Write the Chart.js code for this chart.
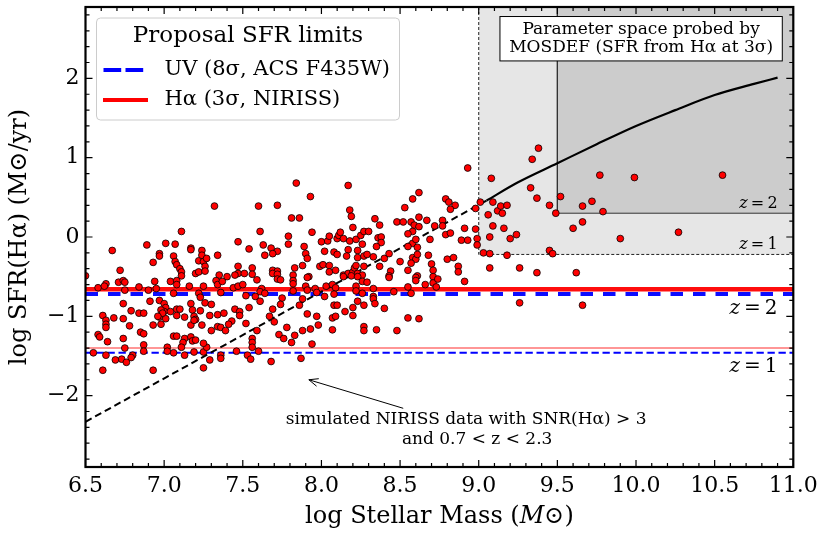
<!DOCTYPE html>
<html>
<head>
<meta charset="utf-8">
<script src="https://cdn.jsdelivr.net/npm/chart.js@4.4.1/dist/chart.umd.min.js"></script>
<style>
  html, body { margin: 0; padding: 0; background: #fff; }
  #wrap { width: 830px; height: 541px; }
</style>
</head>
<body>
<div id="wrap"><canvas id="sfrChart" width="830" height="541"></canvas></div>
<script>
// simulated NIRISS galaxies (log M*, log SFR(Halpha))
var simMass = [
  6.50,6.67,6.72,6.89,6.93,6.97,6.97,7.01,7.07,7.11,
  7.06,7.07,7.08,7.10,7.11,7.11,7.17,7.17,7.20,7.22,
  7.22,7.24,7.24,7.25,7.26,7.26,7.27,7.32,7.34,7.35,
  6.58,6.63,6.62,6.71,6.74,6.75,6.75,6.84,6.90,6.94,
  6.95,7.04,7.08,7.08,7.06,7.16,7.25,7.22,7.23,7.33,
  7.34,7.36,
  6.74,6.91,6.97,7.00,7.01,7.00,6.98,6.97,7.01,6.99,
  7.04,7.08,7.08,7.10,7.13,7.17,7.18,7.19,7.20,7.23,
  7.26,7.30,7.34,7.29,7.24,7.17,7.19,
  6.61,6.63,6.63,6.63,6.68,6.74,6.79,6.84,6.87,6.78,
  6.93,6.98,6.96,6.85,6.87,6.58,6.59,6.64,6.74,
  7.06,7.08,7.13,7.17,7.18,7.20,7.12,7.11,7.06,7.02,
  7.02,6.87,6.87,6.75,6.55,6.63,6.80,6.79,6.73,6.69,6.76,
  7.13,7.19,7.25,7.27,7.25,7.30,7.34,7.36,7.29,7.25,7.36,6.61,6.93,
  7.84,8.17,7.93,7.60,7.72,7.81,7.86,8.18,8.19,8.20,8.58,8.53,8.62,8.34,8.37,
  7.61,7.94,7.79,7.79,7.47,7.63,7.54,7.68,7.72,7.69,7.64,
  7.89,7.90,7.91,8.00,8.04,8.05,8.10,8.11,8.12,8.14,
  8.18,8.22,8.25,8.27,8.30,8.26,8.36,8.38,8.38,8.35,
  8.02,8.08,8.10,8.17,8.16,8.23,8.23,8.27,8.29,8.33,8.40,8.43,
  8.48,8.52,8.57,8.59,8.62,8.62,8.58,8.55,8.58,8.55,8.61,8.58,8.60,8.57,8.50,8.61,
  7.47,7.47,7.51,7.56,7.56,7.45,7.40,7.69,7.72,7.69,7.72,
  7.83,7.82,7.88,7.92,7.99,8.01,8.05,8.05,8.09,8.14,8.17,
  8.20,8.21,8.22,8.27,8.23,8.26,8.37,8.44,8.43,8.55,8.61,
  7.59,7.72,7.74,7.82,7.82,7.91,7.37,7.44,7.47,7.50,
  7.62,7.61,7.64,7.58,7.52,7.61,7.75,7.82,7.90,7.91,
  7.96,7.97,8.03,8.07,8.09,
  8.02,8.08,8.14,8.19,8.23,8.26,8.29,8.22,8.22,8.26,
  8.33,8.33,8.33,8.34,8.23,8.46,8.43,8.60,8.60,8.55,8.57,
  7.45,7.48,7.54,7.38,7.48,7.43,7.41,7.52,7.39,7.59,
  7.69,7.67,7.74,7.86,7.88,7.70,7.78,7.73,7.76,7.83,
  7.88,7.93,7.98,7.97,7.91,
  8.07,8.09,8.08,8.10,8.15,8.20,8.20,8.27,
  8.40,8.07,8.27,8.27,8.35,8.48,8.55,8.62,
  7.56,7.56,7.56,7.81,7.94,7.60,7.46,7.53,7.55,7.36,7.87,7.68,
  8.93,9.38,9.34,9.08,9.77,9.99,10.55,9.33,9.37,9.52,9.45,9.49,
  9.72,9.66,9.79,9.01,8.98,9.09,9.06,9.12,9.14,9.15,9.18,
  9.09,9.16,9.20,9.24,9.07,8.99,8.99,9.03,9.07,9.18,9.45,9.47,9.60,9.66,9.90,10.27,
  8.79,8.81,8.85,8.82,8.67,8.77,8.77,8.72,8.79,8.82,8.91,8.98,
  8.89,8.93,8.69,8.60,8.68,8.80,8.84,8.87,8.70,9.07,9.26,
  8.71,8.71,8.71,8.66,8.74,8.73,8.87,8.91,9.37,9.62,9.26,9.66
];
var simSfr = [
  -0.49,-0.17,-0.42,-0.10,-0.32,-0.21,-0.24,-0.08,-0.09,0.07,
  -0.24,-0.31,-0.35,-0.40,-0.44,-0.49,-0.14,-0.16,-0.46,-0.44,
  -0.30,-0.17,-0.23,-0.31,-0.37,-0.43,-0.27,0.39,-0.23,-0.48,
  -0.64,-0.59,-0.62,-0.57,-0.55,-0.57,-0.67,-0.63,-0.67,-0.56,
  -0.65,-0.56,-0.55,-0.60,-0.71,-0.62,-0.62,-0.71,-0.76,-0.55,
  -0.60,-0.70,
  -0.84,-0.81,-0.80,-0.84,-0.89,-0.94,-0.92,-1.01,-1.03,-0.96,
  -0.94,-0.91,-0.99,-0.91,-1.01,-0.84,-0.92,-1.00,-1.04,-0.93,
  -0.83,-0.85,-0.98,-0.99,-1.11,-1.11,-1.05,
  -0.99,-1.05,-1.10,-1.14,-1.02,-1.03,-0.93,-0.96,-0.96,-1.12,
  -1.11,-1.10,-1.00,-1.20,-1.22,-1.23,-1.26,-1.32,-1.28,
  -1.25,-1.25,-1.28,-1.26,-1.31,-1.30,-1.33,-1.39,-1.46,-1.39,
  -1.44,-1.36,-1.44,-1.40,-1.46,-1.49,-1.49,-1.52,-1.54,-1.55,-1.58,
  -1.49,-1.45,-1.45,-1.39,-1.34,-1.18,-1.13,-1.14,-1.55,-1.65,-1.49,-1.68,-1.68,
  0.68,0.65,0.51,0.39,0.40,0.24,0.24,0.34,0.26,0.12,0.48,0.37,0.56,0.23,0.15,
  0.07,0.06,0.01,-0.09,-0.06,-0.10,-0.15,-0.14,-0.18,-0.21,-0.23,
  -0.12,-0.21,-0.27,-0.06,-0.05,0.01,-0.02,0.02,0.06,-0.02,
  -0.05,-0.03,0.02,0.07,0.07,-0.09,-0.01,0.00,-0.07,-0.12,
  -0.18,-0.19,-0.22,-0.16,-0.24,-0.17,-0.26,-0.24,-0.22,-0.25,-0.27,-0.21,
  0.19,0.19,0.19,0.15,0.25,0.13,0.07,0.04,-0.08,-0.12,-0.13,-0.26,-0.28,-0.33,-0.31,-0.22,
  -0.37,-0.46,-0.46,-0.39,-0.47,-0.48,-0.50,-0.42,-0.43,-0.46,-0.47,
  -0.39,-0.48,-0.36,-0.50,-0.37,-0.35,-0.36,-0.44,-0.42,-0.48,-0.46,
  -0.44,-0.39,-0.36,-0.37,-0.46,-0.48,-0.37,-0.43,-0.49,-0.42,-0.49,
  -0.54,-0.53,-0.54,-0.55,-0.59,-0.51,-0.56,-0.64,-0.62,-0.60,
  -0.65,-0.69,-0.71,-0.75,-0.74,-0.81,-0.77,-0.68,-0.62,-0.67,
  -0.65,-0.70,-0.62,-0.60,-0.64,
  -0.75,-0.72,-0.50,-0.49,-0.50,-0.56,-0.57,-0.62,-0.68,-0.71,
  -0.65,-0.75,-0.78,-0.84,-0.81,-0.69,-0.51,-0.51,-0.55,-0.63,-0.71,
  -0.91,-0.94,-0.89,-0.96,-0.99,-1.06,-1.10,-1.09,-1.18,-1.18,
  -0.91,-1.00,-0.85,-0.86,-0.78,-1.07,-1.14,-1.23,-1.28,-1.24,
  -1.18,-1.16,-1.11,-1.00,-0.97,
  -1.02,-1.00,-0.86,-0.86,-0.94,-0.99,-0.89,-0.86,
  -0.90,-1.17,-1.13,-1.18,-1.17,-1.18,-1.02,-1.03,
  -1.28,-1.33,-1.39,-1.33,-1.35,-1.44,-1.44,-1.49,-1.54,-1.53,-1.53,-1.57,
  0.87,1.12,0.98,0.74,0.78,0.75,0.78,0.62,0.49,0.51,0.40,0.30,
  0.45,0.39,0.32,0.44,0.36,0.44,0.28,0.33,0.39,0.30,0.40,
  0.14,0.11,-0.02,0.03,0.00,-0.02,-0.10,-0.20,-0.21,-0.23,-0.17,-0.21,0.11,0.19,-0.02,0.06,
  0.48,0.44,0.40,0.35,0.21,0.21,0.14,0.14,0.03,0.05,0.11,0.10,
  -0.04,-0.04,-0.03,-0.03,-0.23,-0.28,-0.26,-0.37,-0.34,-0.39,-0.39,
  -0.42,-0.50,-0.58,-0.60,-0.53,-0.63,-0.44,-0.56,-0.45,-0.45,-0.83,-0.86
];

// main sequence curve (solid) and its straight extrapolation (dashed)
var msMass = [9.05, 9.25, 9.5, 9.75, 10.0, 10.25, 10.5, 10.75, 10.9];
var msSfr  = [0.46, 0.69, 0.93, 1.17, 1.40, 1.60, 1.79, 1.93, 2.01];
var extMass = [6.5, 9.05];
var extSfr  = [-2.33, 0.46];

// proposal SFR limits [z=2, z=1]
var haLimit = [-0.66, -1.40];
var uvLimit = [-0.72, -1.46];

// MOSDEF corners [z=1, z=2]
var mosdefMass = [9.0, 9.5];
var mosdefSfr  = [-0.22, 0.30];

var xTicks = [6.5, 7.0, 7.5, 8.0, 8.5, 9.0, 9.5, 10.0, 10.5, 11.0];
var yTicks = [-2, -1, 0, 1, 2];
var xRange = [6.5, 11.0];
var yRange = [-2.9, 2.9];

var SERIF = '"DejaVu Serif", "Liberation Serif", serif';

function pts(xa, ya) {
  var out = [];
  for (var i = 0; i < Math.min(xa.length, ya.length); i++) out.push({x: xa[i], y: ya[i]});
  return out;
}
function hline(v) {
  return [{x: xRange[0], y: v}, {x: xRange[1], y: v}];
}
function corner(mx, sy) {
  return [{x: mx, y: yRange[1]}, {x: mx, y: sy}, {x: xRange[1], y: sy}];
}

function zLabel(ctx, num, xr, ym, size) {
  var it = 'italic ' + size + 'px ' + SERIF, up = size + 'px ' + SERIF;
  var rest = '\u2009=\u2009' + num;
  ctx.font = it; var wz = ctx.measureText('z').width;
  ctx.font = up; var wr = ctx.measureText(rest).width;
  var x0 = xr - wz - wr;
  ctx.textAlign = 'left'; ctx.textBaseline = 'middle';
  ctx.font = it; ctx.fillText('z', x0, ym);
  ctx.font = up; ctx.fillText(rest, x0 + wz, ym);
}

var decor = {
  id: 'decor',
  afterDatasetsDraw: function(chart) {
    var ctx = chart.ctx, a = chart.chartArea;
    var xs = chart.scales.x, ys = chart.scales.y;
    var px = function(v) { return xs.getPixelForValue(v); };
    var py = function(v) { return ys.getPixelForValue(v); };
    ctx.save();
    ctx.fillStyle = '#000';

    // z labels
    zLabel(ctx, '2', px(10.9), py(0.42), 16);
    zLabel(ctx, '1', px(10.9), py(-0.105), 16);
    zLabel(ctx, '2', px(10.9), py(-0.91), 20);
    zLabel(ctx, '1', px(10.9), py(-1.64), 20);

    // MOSDEF box
    var bx0 = px(9.135), bx1 = px(10.93), by0 = py(2.78), by1 = py(2.22);
    ctx.fillStyle = '#fff';
    ctx.fillRect(bx0, by0, bx1 - bx0, by1 - by0);
    ctx.strokeStyle = '#000'; ctx.lineWidth = 1;
    ctx.strokeRect(bx0, by0, bx1 - bx0, by1 - by0);
    ctx.fillStyle = '#000';
    ctx.font = '17px ' + SERIF;
    ctx.textAlign = 'center'; ctx.textBaseline = 'middle';
    ctx.fillText('Parameter space probed by', (bx0 + bx1) / 2, py(2.62));
    ctx.fillText('MOSDEF (SFR from H\u03b1 at 3\u03c3)', (bx0 + bx1) / 2, py(2.39));

    // arrow + note
    var tx = px(8.52), ty = py(-2.16), hx = px(7.92), hy = py(-1.80);
    ctx.lineWidth = 1;
    ctx.beginPath(); ctx.moveTo(tx, ty); ctx.lineTo(hx, hy); ctx.stroke();
    var ang = Math.atan2(ty - hy, tx - hx);
    ctx.beginPath();
    ctx.moveTo(hx + 10 * Math.cos(ang + 0.4), hy + 10 * Math.sin(ang + 0.4));
    ctx.lineTo(hx, hy);
    ctx.lineTo(hx + 10 * Math.cos(ang - 0.4), hy + 10 * Math.sin(ang - 0.4));
    ctx.stroke();
    ctx.font = '17px ' + SERIF;
    ctx.textAlign = 'center';
    ctx.fillText('simulated NIRISS data with SNR(H\u03b1) > 3', px(8.92), py(-2.30));
    ctx.fillText('and 0.7 < z < 2.3', px(8.99), py(-2.56));

    // inward ticks on all four sides
    ctx.lineWidth = 1.2;
    ctx.beginPath();
    for (var i = 0; i <= 45; i++) {
      var xv = px(xRange[0] + i * 0.1), L = (i % 5 === 0) ? 7 : 4;
      ctx.moveTo(xv, a.bottom); ctx.lineTo(xv, a.bottom - L);
      ctx.moveTo(xv, a.top); ctx.lineTo(xv, a.top + L);
    }
    for (var j = -14; j <= 14; j++) {
      var yv = py(j * 0.2), M = (j % 5 === 0) ? 7 : 4;
      ctx.moveTo(a.left, yv); ctx.lineTo(a.left + M, yv);
      ctx.moveTo(a.right, yv); ctx.lineTo(a.right - M, yv);
    }
    ctx.stroke();

    // frame
    ctx.lineWidth = 2.2;
    ctx.strokeRect(a.left, a.top, a.right - a.left, a.bottom - a.top);

    // legend
    var lx = a.left + 11, ly = a.top + 11, lw = 303, lh = 102;
    ctx.fillStyle = 'rgba(255,255,255,0.85)';
    ctx.strokeStyle = '#cccccc'; ctx.lineWidth = 1;
    ctx.beginPath(); ctx.roundRect(lx, ly, lw, lh, 4); ctx.fill(); ctx.stroke();
    ctx.fillStyle = '#000';
    ctx.font = '23px ' + SERIF;
    ctx.textAlign = 'center'; ctx.textBaseline = 'middle';
    ctx.fillText('Proposal SFR limits', lx + lw / 2, ly + 18.5);
    ctx.font = '21px ' + SERIF; ctx.textAlign = 'left';
    ctx.lineWidth = 4; ctx.lineCap = 'butt';
    ctx.strokeStyle = 'blue'; ctx.setLineDash([17.7, 4.3]);
    ctx.beginPath(); ctx.moveTo(lx + 7, ly + 52); ctx.lineTo(lx + 51, ly + 52); ctx.stroke();
    ctx.setLineDash([]); ctx.strokeStyle = 'red';
    ctx.beginPath(); ctx.moveTo(lx + 6.5, ly + 82); ctx.lineTo(lx + 51.5, ly + 82); ctx.stroke();
    ctx.fillText('UV (8\u03c3, ACS F435W)', lx + 68, ly + 52);
    ctx.fillText('H\u03b1 (3\u03c3, NIRISS)', lx + 68, ly + 82);
    ctx.restore();
  }
};

function noEdgePad(s) {
  s.paddingTop = 0; s.paddingBottom = 0; s.paddingLeft = 0; s.paddingRight = 0;
}

var ctx = document.getElementById('sfrChart').getContext('2d');
var chart = new Chart(ctx, {
  type: 'scatter',
  data: {
    datasets: [
      {
        label: 'simulated NIRISS',
        data: pts(simMass, simSfr),
        backgroundColor: '#ff0000',
        borderColor: '#000',
        borderWidth: 0.8,
        pointRadius: 3.4,
        order: 0
      },
      {
        label: 'MS',
        data: pts(msMass, msSfr),
        showLine: true, pointRadius: 0,
        borderColor: '#000', borderWidth: 2.2, cubicInterpolationMode: 'monotone',
        order: 1
      },
      {
        label: 'MS extrapolation',
        data: pts(extMass, extSfr),
        showLine: true, pointRadius: 0,
        borderColor: '#000', borderWidth: 2, borderDash: [7, 4],
        order: 1
      },
      {
        label: 'Halpha z=2',
        data: hline(haLimit[0]),
        showLine: true, pointRadius: 0,
        borderColor: 'rgba(255,0,0,0.95)', borderWidth: 4.5,
        order: 3
      },
      {
        label: 'UV z=2',
        data: hline(uvLimit[0]),
        showLine: true, pointRadius: 0,
        borderColor: 'rgba(0,0,255,0.95)', borderWidth: 4, borderDash: [12.5, 10],
        order: 2
      },
      {
        label: 'Halpha z=1',
        data: hline(haLimit[1]),
        showLine: true, pointRadius: 0,
        borderColor: 'rgba(255,0,0,0.55)', borderWidth: 1.6,
        order: 3
      },
      {
        label: 'UV z=1',
        data: hline(uvLimit[1]),
        showLine: true, pointRadius: 0,
        borderColor: 'blue', borderWidth: 2, borderDash: [7.3, 3.7],
        order: 2
      },
      {
        label: 'MOSDEF z=2',
        data: corner(mosdefMass[1], mosdefSfr[1]),
        showLine: true, pointRadius: 0,
        borderColor: '#333', borderWidth: 1,
        backgroundColor: '#cccccc', fill: 'end',
        order: 8
      },
      {
        label: 'MOSDEF z=1',
        data: corner(mosdefMass[0], mosdefSfr[0]),
        showLine: true, pointRadius: 0,
        borderColor: '#222', borderWidth: 1, borderDash: [3, 2],
        backgroundColor: '#e6e6e6', fill: 'end',
        order: 9
      }
    ]
  },
  options: {
    responsive: false,
    animation: false,
    devicePixelRatio: 1,
    layout: { padding: { top: 7, right: 36.7, left: 0, bottom: 0 } },
    plugins: {
      legend: { display: false },
      tooltip: { enabled: false }
    },
    scales: {
      x: {
        type: 'linear', min: xRange[0], max: xRange[1],
        afterBuildTicks: function(s) { s.ticks = xTicks.map(function(v) { return {value: v}; }); },
        afterFit: function(s) { s.height = 74; noEdgePad(s); },
        grid: { display: false, drawTicks: false },
        border: { display: false },
        ticks: {
          color: '#000', padding: 6, maxRotation: 0, autoSkip: false,
          font: { family: SERIF, size: 22 },
          callback: function(v) { return Number(v).toFixed(1); }
        },
        title: {
          display: true, text: 'log Stellar Mass (\ud835\udc40\u2299)', color: '#000',
          font: { family: SERIF, size: 24 }, padding: { top: 0, bottom: 9.6 }
        }
      },
      y: {
        type: 'linear', min: yRange[0], max: yRange[1],
        afterBuildTicks: function(s) { s.ticks = yTicks.map(function(v) { return {value: v}; }); },
        afterFit: function(s) { s.width = 85.5; noEdgePad(s); },
        grid: { display: false, drawTicks: false },
        border: { display: false },
        ticks: {
          color: '#000', padding: 6, autoSkip: false,
          font: { family: SERIF, size: 22 },
          callback: function(v) { return v < 0 ? '\u2212' + Math.abs(v) : String(v); }
        },
        title: {
          display: true, text: 'log SFR(H\u03b1) (M\u2299/yr)', color: '#000',
          font: { family: SERIF, size: 24 }, padding: { top: 5, bottom: 0 }
        }
      }
    }
  },
  plugins: [decor]
});
</script>
</body>
</html>
